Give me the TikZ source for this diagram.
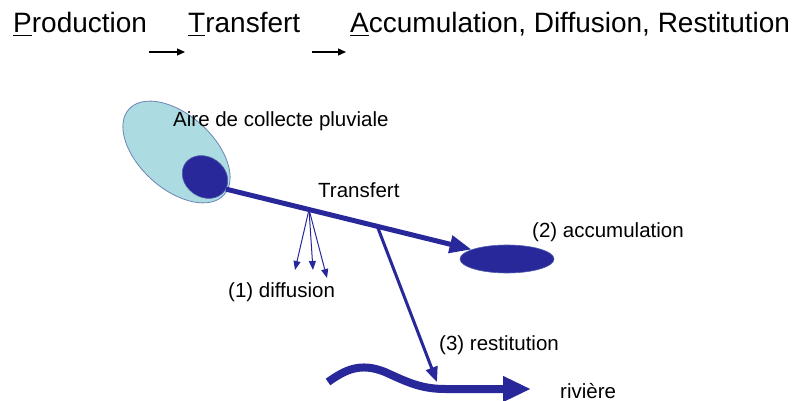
\documentclass[tikz,border=0pt]{standalone}
\usepackage{fontspec}
\setmainfont{Liberation Sans}
\usetikzlibrary{shapes.geometric,arrows.meta,calc}
\definecolor{blueD}{RGB}{40,40,155}
\definecolor{blueL}{RGB}{172,220,226}
\definecolor{blueE}{RGB}{110,130,180}
\newcommand\myul[1]{\setbox0\hbox{#1}\rlap{\rule[-3.5pt]{\wd0}{1.8pt}}\box0}
\tikzset{
  titletxt/.style={anchor=base west,inner sep=0pt,font=\fontsize{28}{31}\selectfont},
  lbl/.style={anchor=base west,inner sep=0pt,font=\fontsize{20.5}{24}\selectfont},
  smallarr/.style={line width=1.3pt,-{Triangle[length=8pt,width=7pt]}},
  thick5/.style={blueD,line width=5pt,-{Triangle[length=22pt,width=17pt]}},
  diffarr/.style={blueD,line width=1pt,-{Triangle[length=9pt,width=7pt]}},
  restarr/.style={blueD,line width=3pt,-{Triangle[length=15pt,width=12pt]}},
  riverarr/.style={blueD,line width=8pt,-{Triangle[length=28pt,width=24pt]}},
}
\begin{document}
\begin{tikzpicture}[x=1pt,y=-1pt]
\useasboundingbox (0,0) rectangle (796,401);
% title
\node[titletxt] (tp) at (13,33) {\myul{P}roduction};
\node[titletxt] (tt) at (188,33) {\myul{T}ransfert};
\node[titletxt] (ta) at (350,33) {\myul{A}ccumulation, Diffusion, Restitution};
\coordinate (a1s) at (149,52); \coordinate (a1e) at (185,52);
\coordinate (a2s) at (312,52); \coordinate (a2e) at (346,52);
\draw[smallarr] (a1s) -- (a1e);
\draw[smallarr] (a2s) -- (a2e);
% collection area
\node[ellipse,draw=blueE,fill=blueL,line width=0.8pt,minimum width=128pt,minimum height=74pt,inner sep=0pt,rotate=-42] (aire) at (176.5,152) {};
\node[ellipse,draw=blueE!60!blueD,fill=blueD,line width=0.6pt,minimum width=48pt,minimum height=40pt,inner sep=0pt,rotate=-35] (prod) at (205,177) {};
% accumulation
\node[ellipse,draw=blueE!60!blueD,fill=blueD,line width=0.6pt,minimum width=94pt,minimum height=28pt,inner sep=0pt] (acc) at (507,259) {};
% transfer
\draw[thick5] (prod.5) -- (acc.165);
\coordinate (d0) at ($(prod.5)!0.338!(acc.165)$);
\coordinate (r0) at ($(prod.5)!0.616!(acc.165)$);
% diffusion
\coordinate (d1) at (295,270);
\coordinate (d2) at (313,270);
\coordinate (d3) at (327,278);
\draw[diffarr] (d0) -- (d1);
\draw[diffarr] (d0) -- (d2);
\draw[diffarr] (d0) -- (d3);
% river
\coordinate (rs) at (328,382);
\coordinate (re) at (531,389);
\coordinate (riv) at (437,382);
\draw[riverarr] (rs) .. controls (345,370) and (360,362) .. (385,372) .. controls (405,381) and (420,389) .. (445,389) -- (re);
% restitution
\draw[restarr] (r0) -- (riv);
% labels
\node[lbl] (laire) at (173,127) {Aire de collecte pluviale};
\node[lbl] (ltr) at (318,198) {Transfert};
\node[lbl] (ldif) at (228,297) {(1) diffusion};
\node[lbl] (lacc) at (532,237) {(2) accumulation};
\node[lbl] (lres) at (439,350) {(3) restitution};
\node[lbl] (lriv) at (560,398) {rivière};
\end{tikzpicture}
\end{document}
